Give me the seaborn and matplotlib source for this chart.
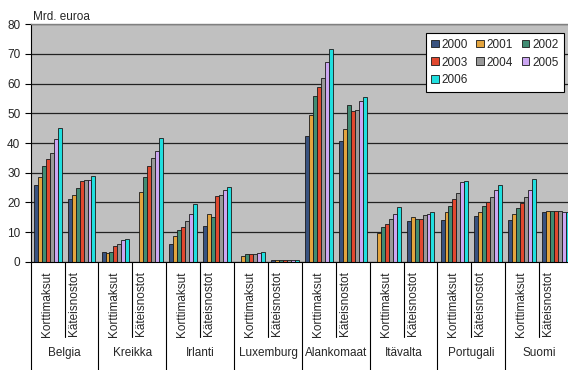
import numpy as np
import pandas as pd
import matplotlib
matplotlib.use("Agg")
import matplotlib.pyplot as plt
import matplotlib.transforms as mtransforms
import seaborn as sns

countries = ["Belgia", "Kreikka", "Irlanti", "Luxemburg", "Alankomaat", "Itävalta", "Portugali", "Suomi"]
kinds = ["Korttimaksut", "Käteisnostot"]
years = ["2000", "2001", "2002", "2003", "2004", "2005", "2006"]
nan = np.nan
y2000 = [25.8, 21.0, 3.2, nan, 5.9, 11.9, nan, 0.6, 42.4, 40.7, nan, 13.6, 14.2, 15.3, 14.0, 16.8]
y2001 = [28.6, 22.4, 2.9, 23.6, 8.6, 16.0, 1.9, 0.6, 49.3, 44.6, 9.8, 15.0, 16.6, 16.8, 16.2, 17.2]
y2002 = [32.3, 24.8, 3.2, 28.4, 10.7, 15.0, 2.5, 0.6, 55.7, 52.9, 11.8, 14.5, 18.7, 18.7, 18.1, 17.2]
y2003 = [34.5, 27.1, 5.3, 32.3, 11.8, 22.0, 2.5, 0.6, 58.8, 50.8, 12.6, 14.5, 21.0, 20.1, 19.8, 17.2]
y2004 = [36.5, 27.4, 6.0, 34.9, 13.7, 22.4, 2.7, 0.6, 61.9, 51.0, 14.4, 15.6, 23.2, 21.7, 21.7, 17.0]
y2005 = [41.2, 27.4, 7.3, 37.2, 16.0, 24.2, 2.8, 0.6, 67.3, 54.2, 16.2, 16.0, 26.8, 24.1, 24.3, 16.9]
y2006 = [44.9, 29.0, 7.5, 41.6, 19.3, 25.2, 3.2, 0.6, 71.7, 55.5, 18.3, 16.9, 27.3, 26.0, 28.0, 16.8]
series = [y2000, y2001, y2002, y2003, y2004, y2005, y2006]
colors = ["#2E4F8A", "#FFAA22", "#339977", "#FF3311", "#999999", "#CC99FF", "#00FFFF"]
yticks = [0, 10, 20, 30, 40, 50, 60, 70, 80]
ylabel = "Mrd. euroa"

sns.set_style("white")
plt.rcParams["font.family"] = ["Liberation Sans", "DejaVu Sans"]
FS = 8.5

cats = [f"{c}|{k}" for c in countries for k in kinds]
rows = []
for yr, vals in zip(years, series):
    for cat, v in zip(cats, vals):
        if not np.isnan(v):
            rows.append({"cat": cat, "year": yr, "value": v})
df = pd.DataFrame(rows)

W, H = 568, 370
fig = plt.figure(figsize=(W / 100, H / 100), dpi=100)
left_px, right_px, top_px, bot_px = 30.7, 30.7 + 16 * 33.9, 24.3, 261.7
ax = fig.add_axes([left_px / W, 1 - bot_px / H, (right_px - left_px) / W, (bot_px - top_px) / H])
ax.set_facecolor("#C0C0C0")

sns.barplot(data=df, x="cat", y="value", hue="year", order=cats, hue_order=years,
            palette=colors, width=0.82, edgecolor="#1a1a1a", linewidth=0.6,
            errorbar=None, ax=ax, legend=True)

ax.set_xlim(-0.5, len(cats) - 0.5)
ax.set_ylim(0, 80)
ax.set_yticks(yticks)
ax.set_yticklabels([str(t) for t in yticks], fontsize=FS)
ax.yaxis.grid(True, color="#222222", lw=0.9)
ax.set_axisbelow(True)
ax.set_xlabel("")
ax.set_ylabel("")
ax.set_xticks([])
ax.tick_params(axis="y", which="major", length=4, width=0.8, color="black", pad=3.5, left=True)
ax.spines["top"].set_color("#808080")
ax.spines["top"].set_linewidth(1.0)
ax.spines["right"].set_visible(False)
ax.spines["left"].set_color("black")
ax.spines["left"].set_linewidth(0.8)
ax.spines["bottom"].set_color("black")
ax.spines["bottom"].set_linewidth(0.8)

trans = mtransforms.blended_transform_factory(ax.transData, ax.transAxes)
ah = bot_px - top_px
long_end = -(H - bot_px) / ah
short_end = -(336.7 - bot_px) / ah
for b in range(len(cats) + 1):
    xb = b - 0.5
    yend = long_end if b % 2 == 0 else short_end
    ax.plot([xb, xb], [0, yend], transform=trans, color="black", lw=0.8, clip_on=False)

lab_top = -(271.5 - bot_px) / ah
for i, cat in enumerate(cats):
    k = cat.split("|")[1]
    off = -0.03 if i % 2 == 0 else -0.235
    ax.text(i + off, lab_top, k, transform=trans, rotation=90, ha="center", va="top", fontsize=FS)

country_y = -(353.3 - bot_px) / ah
for j, c in enumerate(countries):
    ax.text(2 * j + 0.5, country_y, c, transform=trans, ha="center", va="center", fontsize=FS)

fig.text(33.3 / W, 1 - 17.3 / H, ylabel, ha="left", va="center", fontsize=FS)

handles, labels = ax.get_legend_handles_labels()
if ax.legend_:
    ax.legend_.remove()
# row-major order for a 3-column legend
order = [0, 3, 6, 1, 4, 2, 5]
handles = [handles[i] for i in order]
labels = [labels[i] for i in order]
leg = fig.legend(handles, labels, loc="upper left", bbox_to_anchor=(425.7 / W, 1 - 33.3 / H),
                 ncol=3, fontsize=FS, frameon=True, fancybox=False, framealpha=1,
                 edgecolor="black", handlelength=0.65, handleheight=0.65, handletextpad=0.25,
                 columnspacing=0.7, borderpad=0.45, labelspacing=0.5, borderaxespad=0)
leg.get_frame().set_linewidth(0.8)
for h in leg.legend_handles:
    h.set_edgecolor("#1a1a1a")
    h.set_linewidth(0.6)

fig.savefig("out.png", dpi=100)
